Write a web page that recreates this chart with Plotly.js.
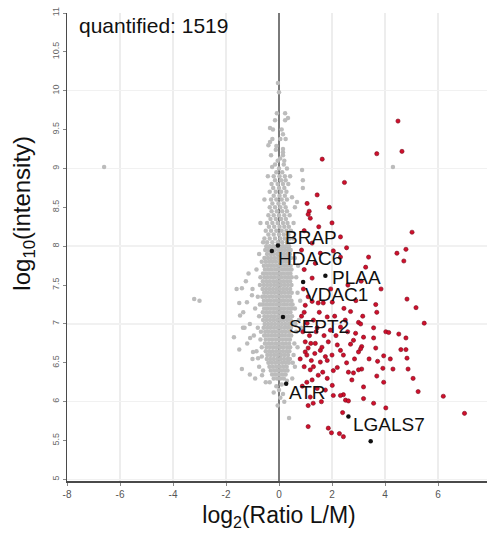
<!DOCTYPE html>
<html>
<head>
<meta charset="utf-8">
<script src="https://cdn.plot.ly/plotly-3.0.1.min.js"></script>
<style>
html,body{margin:0;padding:0;overflow:hidden;background:#fff;}
#chart{width:491px;height:538px;}
</style>
</head>
<body>
<div id="chart"></div>
<script>
// ---- data ----
// dense gray core: [log2 ratio, log10 intensity]
var grayCore = [
[-0.48,8.00],[-0.35,8.00],[-0.22,8.00],[-0.10,8.00],[0.03,8.00],[0.15,8.00],[0.27,8.00],[0.38,8.00],
[-0.52,7.95],[-0.40,7.95],[-0.28,7.95],[-0.15,7.95],[-0.02,7.95],[0.10,7.95],[0.22,7.95],[0.34,7.95],[0.44,7.95],
[-0.45,7.90],[-0.32,7.90],[-0.20,7.90],[-0.07,7.90],[0.06,7.90],[0.18,7.90],[0.30,7.90],[0.41,7.90],
[-0.55,7.85],[-0.42,7.85],[-0.30,7.85],[-0.17,7.85],[-0.04,7.85],[0.09,7.85],[0.21,7.85],[0.33,7.85],[0.45,7.85],
[-0.50,7.80],[-0.37,7.80],[-0.25,7.80],[-0.12,7.80],[0.01,7.80],[0.14,7.80],[0.26,7.80],[0.38,7.80],
[-0.57,7.75],[-0.44,7.75],[-0.31,7.75],[-0.19,7.75],[-0.06,7.75],[0.07,7.75],[0.19,7.75],[0.31,7.75],[0.44,7.75],
[-0.53,7.70],[-0.40,7.70],[-0.27,7.70],[-0.14,7.70],[-0.01,7.70],[0.12,7.70],[0.25,7.70],[0.37,7.70],[0.47,7.70],
[-0.60,7.65],[-0.47,7.65],[-0.34,7.65],[-0.21,7.65],[-0.08,7.65],[0.05,7.65],[0.18,7.65],[0.31,7.65],[0.43,7.65],
[-0.55,7.60],[-0.42,7.60],[-0.29,7.60],[-0.16,7.60],[-0.03,7.60],[0.10,7.60],[0.23,7.60],[0.36,7.60],[0.48,7.60],
[-0.61,7.55],[-0.48,7.55],[-0.35,7.55],[-0.22,7.55],[-0.09,7.55],[0.04,7.55],[0.17,7.55],[0.30,7.55],[0.42,7.55],
[-0.57,7.50],[-0.44,7.50],[-0.31,7.50],[-0.18,7.50],[-0.05,7.50],[0.08,7.50],[0.21,7.50],[0.34,7.50],[0.47,7.50],
[-0.62,7.45],[-0.49,7.45],[-0.36,7.45],[-0.23,7.45],[-0.10,7.45],[0.03,7.45],[0.16,7.45],[0.29,7.45],[0.42,7.45],
[-0.56,7.40],[-0.43,7.40],[-0.30,7.40],[-0.17,7.40],[-0.04,7.40],[0.09,7.40],[0.22,7.40],[0.35,7.40],[0.48,7.40],
[-0.63,7.35],[-0.50,7.35],[-0.37,7.35],[-0.24,7.35],[-0.11,7.35],[0.02,7.35],[0.15,7.35],[0.28,7.35],[0.41,7.35],
[-0.57,7.30],[-0.44,7.30],[-0.31,7.30],[-0.18,7.30],[-0.05,7.30],[0.08,7.30],[0.21,7.30],[0.34,7.30],[0.47,7.30],
[-0.62,7.25],[-0.49,7.25],[-0.36,7.25],[-0.23,7.25],[-0.10,7.25],[0.03,7.25],[0.16,7.25],[0.29,7.25],[0.42,7.25],[0.51,7.25],
[-0.56,7.20],[-0.43,7.20],[-0.30,7.20],[-0.17,7.20],[-0.04,7.20],[0.09,7.20],[0.22,7.20],[0.35,7.20],[0.48,7.20],
[-0.61,7.15],[-0.48,7.15],[-0.35,7.15],[-0.22,7.15],[-0.09,7.15],[0.04,7.15],[0.17,7.15],[0.30,7.15],[0.43,7.15],
[-0.55,7.10],[-0.42,7.10],[-0.29,7.10],[-0.16,7.10],[-0.03,7.10],[0.10,7.10],[0.23,7.10],[0.36,7.10],[0.49,7.10],
[-0.60,7.05],[-0.47,7.05],[-0.34,7.05],[-0.21,7.05],[-0.08,7.05],[0.05,7.05],[0.18,7.05],[0.31,7.05],[0.44,7.05],
[-0.54,7.00],[-0.41,7.00],[-0.28,7.00],[-0.15,7.00],[-0.02,7.00],[0.11,7.00],[0.24,7.00],[0.37,7.00],[0.50,7.00],
[-0.58,6.95],[-0.45,6.95],[-0.32,6.95],[-0.19,6.95],[-0.06,6.95],[0.07,6.95],[0.20,6.95],[0.33,6.95],[0.45,6.95],
[-0.52,6.90],[-0.39,6.90],[-0.26,6.90],[-0.13,6.90],[0.00,6.90],[0.13,6.90],[0.26,6.90],[0.39,6.90],
[-0.56,6.85],[-0.43,6.85],[-0.30,6.85],[-0.17,6.85],[-0.04,6.85],[0.09,6.85],[0.22,6.85],[0.35,6.85],[0.46,6.85],
[-0.50,6.80],[-0.37,6.80],[-0.24,6.80],[-0.11,6.80],[0.02,6.80],[0.15,6.80],[0.28,6.80],[0.41,6.80],
[-0.53,6.75],[-0.40,6.75],[-0.27,6.75],[-0.14,6.75],[-0.01,6.75],[0.12,6.75],[0.25,6.75],[0.38,6.75],
[-0.47,6.70],[-0.34,6.70],[-0.21,6.70],[-0.08,6.70],[0.05,6.70],[0.18,6.70],[0.31,6.70],[0.42,6.70],
[-0.50,6.65],[-0.37,6.65],[-0.24,6.65],[-0.11,6.65],[0.02,6.65],[0.15,6.65],[0.28,6.65],[0.39,6.65],
[-0.44,6.60],[-0.31,6.60],[-0.18,6.60],[-0.05,6.60],[0.08,6.60],[0.21,6.60],[0.34,6.60],
[-0.46,6.55],[-0.33,6.55],[-0.20,6.55],[-0.07,6.55],[0.06,6.55],[0.19,6.55],[0.32,6.55],[0.41,6.55],
[-0.40,6.50],[-0.27,6.50],[-0.14,6.50],[-0.01,6.50],[0.12,6.50],[0.25,6.50],[0.37,6.50],
[-0.36,6.45],[-0.23,6.45],[-0.10,6.45],[0.03,6.45],[0.16,6.45],[0.29,6.45],
[-0.31,6.40],[-0.18,6.40],[-0.05,6.40],[0.08,6.40],[0.21,6.40],[0.32,6.40],
[-0.26,6.35],[-0.13,6.35],[0.00,6.35],[0.13,6.35],[0.25,6.35],
[-0.20,6.30],[-0.07,6.30],[0.06,6.30],[0.18,6.30]
];
// sparser gray points above the core
var grayUpper = [
[-0.45,8.05],[-0.25,8.05],[-0.05,8.05],[0.12,8.05],[0.30,8.05],
[-0.55,8.10],[-0.35,8.10],[-0.15,8.10],[0.05,8.10],[0.22,8.10],[0.40,8.10],
[-0.40,8.15],[-0.20,8.15],[0.00,8.15],[0.18,8.15],[0.35,8.15],
[-0.50,8.20],[-0.30,8.20],[-0.10,8.20],[0.10,8.20],[0.28,8.20],[0.45,8.20],
[-0.38,8.25],[-0.18,8.25],[0.02,8.25],[0.20,8.25],[0.37,8.25],
[-0.45,8.30],[-0.25,8.30],[-0.05,8.30],[0.15,8.30],[0.32,8.30],[0.55,8.30],
[-0.32,8.35],[-0.12,8.35],[0.08,8.35],[0.26,8.35],
[-0.40,8.40],[-0.20,8.40],[0.00,8.40],[0.20,8.40],[0.40,8.40],
[-0.28,8.45],[-0.08,8.45],[0.12,8.45],[0.30,8.45],
[-0.35,8.50],[-0.15,8.50],[0.05,8.50],[0.25,8.50],[0.60,8.50],
[-0.25,8.55],[-0.02,8.55],[0.18,8.55],[0.68,8.57],
[-0.30,8.60],[-0.10,8.60],[0.10,8.60],[0.30,8.60],[0.49,8.63],
[-0.20,8.65],[0.02,8.65],[0.22,8.65],
[-0.35,8.70],[-0.12,8.70],[0.08,8.70],[0.28,8.70],
[-0.22,8.75],[0.00,8.75],[0.20,8.75],[0.90,8.75],
[-0.28,8.80],[-0.05,8.80],[0.15,8.80],[0.35,8.80],
[-0.15,8.85],[0.08,8.85],[0.25,8.85],[0.90,8.85],
[-0.42,8.90],[-0.20,8.90],[0.02,8.90],[0.22,8.90],[0.42,8.90],
[-0.10,8.95],[0.12,8.95],
[-0.26,9.02],[0.00,9.00],[0.30,9.00],[0.87,8.98],
[-0.15,9.05],[0.18,9.05],[-0.05,9.10],[0.20,9.10],[0.04,9.13],
[-0.30,9.17],[0.15,9.17],[0.15,9.21],[-0.12,9.24],[0.15,9.25],
[-0.10,9.29],[-0.40,9.30],[-0.34,9.34],[0.05,9.38],[-0.25,9.38],[0.25,9.38],
[0.15,9.44],[-0.23,9.50],[0.10,9.50],[-0.34,9.52],
[-0.15,9.62],[0.23,9.62],[0.34,9.65],[0.23,9.71],[-0.08,9.71],
[0.00,9.98],[-0.04,10.10]
];
// gray points scattered around the core, plus outliers
var grayScatter = [
[-0.75,7.90],[-0.65,7.80],[-0.85,7.70],[-0.70,7.60],[-0.72,7.50],[-1.00,7.45],[-1.15,7.65],[-1.25,7.55],
[-1.40,7.46],[-1.02,7.37],[-0.80,7.35],[-1.21,7.28],[-0.72,7.25],[-0.90,7.20],[-1.47,7.11],[-1.35,7.15],
[-0.75,7.10],[-1.10,7.00],[-1.36,6.95],[-0.80,6.95],[-0.68,6.90],[-0.95,6.85],[-1.09,6.82],[-0.70,6.80],
[-1.20,6.75],[-0.65,6.70],[-0.85,6.65],[-0.98,6.64],[-0.65,6.58],[-0.79,6.56],[-1.00,6.55],[-0.75,6.45],
[-0.60,6.40],[-1.10,6.35],[-0.64,6.34],[-0.90,6.30],[-0.50,6.25],[-0.35,6.25],[-0.60,8.05],[-0.70,8.30],
[-0.55,8.60],[-1.30,6.95],[-1.60,7.45],[-1.50,7.27],[-1.70,6.83],[-1.50,6.67],[-1.40,6.42],
[-3.20,7.32],[-3.00,7.30],[-6.60,9.02],[4.30,9.02],
[0.60,7.85],[0.72,7.75],[0.65,7.60],[0.70,7.40],[0.80,7.30],[0.60,7.20],[0.75,7.05],[0.62,7.00],
[0.85,6.95],[0.65,6.90],[0.58,6.75],[0.70,6.70],[0.55,6.60],[0.52,6.50],[0.60,6.45],[0.50,6.30],[0.55,8.10],
[-0.10,6.20],[0.10,6.22],[0.30,6.27],[0.00,6.15],[-0.20,6.12],[0.15,6.10],[0.05,6.05],[0.20,6.00],
[-0.05,5.95],[0.38,5.79]
];
// red (regulated) points
var redPts = [
[4.49,9.61],[4.64,9.22],[3.69,9.19],[1.63,9.12],[2.47,8.82],[1.44,8.66],[1.06,8.55],[1.90,8.50],
[1.14,8.45],[1.10,8.41],[1.18,8.36],[2.00,8.30],[1.50,8.25],[0.95,8.20],[5.02,8.18],[2.32,8.12],
[1.25,8.04],[2.55,7.98],[4.79,7.96],[0.85,7.95],[2.05,7.94],[4.45,7.91],[1.56,7.91],[3.38,7.86],
[2.32,7.86],[4.71,7.81],[1.37,7.78],[3.27,7.73],[0.95,7.70],[1.25,7.59],[3.10,7.55],[2.60,7.50],
[1.95,7.45],[0.92,7.45],[3.85,7.45],[1.10,7.35],[4.83,7.32],[2.90,7.30],[1.25,7.29],[2.01,7.28],
[1.48,7.27],[1.67,7.27],[3.65,7.25],[0.99,7.24],[5.17,7.21],[2.45,7.20],[2.70,7.16],[1.52,7.15],
[3.69,7.15],[0.85,7.10],[2.10,7.10],[3.16,7.10],[1.82,7.09],[1.30,7.05],[3.00,7.02],[1.06,7.01],
[5.48,7.01],[3.08,7.00],[1.44,6.95],[2.32,6.96],[3.57,6.95],[1.94,6.92],[0.90,6.90],[2.59,6.90],
[4.03,6.90],[4.14,6.89],[2.89,6.88],[4.52,6.87],[1.70,6.85],[1.15,6.85],[3.19,6.83],[4.79,6.82],
[3.57,6.82],[2.81,6.79],[0.99,6.77],[1.86,6.77],[1.37,6.75],[2.70,6.74],[2.20,6.73],[3.12,6.71],
[1.10,6.69],[3.65,6.69],[3.08,6.68],[4.60,6.67],[4.79,6.67],[1.56,6.66],[2.32,6.66],[0.99,6.64],
[3.00,6.64],[1.35,6.62],[2.43,6.60],[2.00,6.60],[3.95,6.59],[4.83,6.56],[0.80,6.55],[4.20,6.55],
[3.40,6.55],[1.22,6.53],[1.82,6.53],[3.72,6.52],[1.56,6.51],[2.55,6.50],[0.95,6.45],[2.20,6.44],
[3.92,6.43],[4.30,6.42],[4.87,6.42],[3.12,6.42],[1.18,6.41],[3.00,6.41],[2.62,6.38],[1.65,6.38],
[2.81,6.37],[1.48,6.34],[3.69,6.33],[1.82,6.30],[5.06,6.30],[1.25,6.28],[2.75,6.28],[1.05,6.25],
[3.95,6.25],[2.01,6.21],[0.88,6.20],[3.19,6.19],[1.44,6.17],[1.75,6.15],[5.25,6.13],[2.43,6.09],
[2.32,6.08],[2.05,6.08],[6.20,6.07],[1.18,6.06],[3.19,6.04],[2.51,6.02],[2.62,6.01],[1.60,6.00],
[1.29,5.98],[3.57,5.98],[1.10,5.95],[4.03,5.92],[2.40,5.86],[7.00,5.85],[1.10,5.68],[1.86,5.66],
[1.98,5.60],[2.28,5.59],[2.43,5.55],[1.30,6.45],[1.62,6.70],[2.15,6.85],[1.05,6.60],[2.50,7.05],
[1.40,6.90],[0.95,7.15],[1.75,6.58],[2.85,6.55],[1.20,6.75],[2.05,6.40]
];
// named (black) proteins
var namedX = [-0.04, -0.27, 1.75, 0.91, 0.15, 0.27, 2.62];
var namedY = [8.01, 7.94, 7.62, 7.54, 7.09, 6.23, 5.81];
var namedLabels = ['BRAP', 'HDAC6', 'PLAA', 'VDAC1', 'SEPT2', 'ATR', 'LGALS7'];
var extraBlack = [[3.46, 5.49]];
var quantifiedCount = 1519;
var xTicks = [-8, -6, -4, -2, 0, 2, 4, 6, 8];
var yTicks = [5, 5.5, 6, 6.5, 7, 7.5, 8, 8.5, 9, 9.5, 10, 10.5, 11];
var yGrid = [5, 6, 7, 8, 9, 10, 11];

// label pixel offsets (style)
var labelShift = [[5, 8], [4, -8], [5, -2], [0, -13], [4, -10], [1, -9], [3, -8]];

function col(a, i) { return a.map(function (p) { return p[i]; }); }
var gray = grayCore.concat(grayUpper, grayScatter);

var traces = [
  { x: col(gray, 0), y: col(gray, 1), type: 'scatter', mode: 'markers',
    marker: { color: '#bcbcbc', size: 4.5 }, hoverinfo: 'skip', showlegend: false },
  { x: col(redPts, 0), y: col(redPts, 1), type: 'scatter', mode: 'markers',
    marker: { color: '#d0102c', size: 4.2, line: { color: '#7a0a1c', width: 0.6 } }, hoverinfo: 'skip', showlegend: false },
  { x: namedX.concat(col(extraBlack, 0)), y: namedY.concat(col(extraBlack, 1)), type: 'scatter', mode: 'markers',
    marker: { color: '#111', size: 4.5 }, hoverinfo: 'skip', showlegend: false },
  { x: [], y: [], yaxis: 'y2', type: 'scatter', mode: 'markers', showlegend: false, hoverinfo: 'skip' }
];

var annotations = namedLabels.map(function (t, i) {
  return { x: namedX[i], y: namedY[i], xref: 'x', yref: 'y', text: t, showarrow: false,
    xanchor: 'left', yanchor: 'middle', xshift: labelShift[i][0], yshift: labelShift[i][1],
    font: { family: 'Liberation Sans, Arial, sans-serif', size: 19, color: '#111' } };
});
annotations.push({ x: 0.024, y: 0.974, xref: 'paper', yref: 'paper', xanchor: 'left', yanchor: 'middle',
  text: 'quantified: ' + quantifiedCount, showarrow: false,
  font: { family: 'Liberation Sans, Arial, sans-serif', size: 21, color: '#111' } });
annotations.push({ x: -0.103, y: 0.572, xref: 'paper', yref: 'paper', xanchor: 'center', yanchor: 'middle',
  text: 'log<sub>10</sub>(intensity)', textangle: -90, showarrow: false,
  font: { family: 'Liberation Sans, Arial, sans-serif', size: 24, color: '#111' } });

var layout = {
  width: 491, height: 538,
  margin: { l: 67, r: 0, t: 13, b: 57 },
  paper_bgcolor: '#fff', plot_bgcolor: '#fff',
  font: { family: 'Liberation Sans, Arial, sans-serif' },
  xaxis: {
    range: [-8, 8], tickvals: xTicks, ticktext: xTicks.map(String),
    showgrid: true, gridcolor: '#ededed', gridwidth: 1.5,
    zeroline: true, zerolinecolor: '#7a7a7a', zerolinewidth: 1.5,
    showline: true, linecolor: '#4a4a4a', linewidth: 1.5,
    ticks: 'outside', ticklen: 3, tickcolor: '#888',
    tickfont: { size: 10, color: '#555' },
    title: { text: 'log<sub>2</sub>(Ratio L/M)', standoff: 8,
      font: { size: 23, color: '#111', family: 'Liberation Sans, Arial, sans-serif' } }
  },
  yaxis: {
    range: [4.98, 11], tickvals: yTicks, ticktext: yTicks.map(String),
    showgrid: false, zeroline: false,
    showline: true, linecolor: '#4a4a4a', linewidth: 1.5,
    ticks: 'outside', ticklen: 3, tickcolor: '#888', tickangle: -90,
    tickfont: { size: 9, color: '#666' }
  },
  yaxis2: {
    overlaying: 'y', range: [4.98, 11], tickvals: yGrid,
    showgrid: true, gridcolor: '#f1f1f1', gridwidth: 1.5,
    showticklabels: false, ticks: '', zeroline: false, showline: false
  },
  annotations: annotations,
  showlegend: false
};

Plotly.newPlot('chart', traces, layout, { displayModeBar: false, staticPlot: true });
</script>
</body>
</html>
